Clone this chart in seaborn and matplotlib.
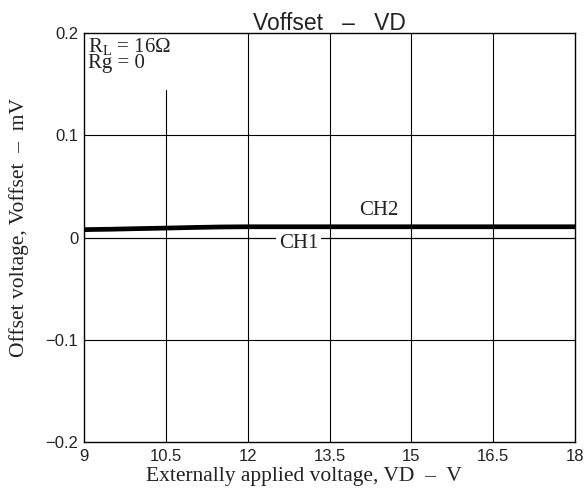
import matplotlib
matplotlib.use('Agg')
import matplotlib.pyplot as plt
import seaborn as sns
import pandas as pd

# data
vd = [9.0, 9.5, 10.0, 10.5, 11.0, 11.5, 12.0, 13.5, 15.0, 16.5, 18.0]
ch2 = [0.0078, 0.0082, 0.0088, 0.0093, 0.0099, 0.0104, 0.0106, 0.0106, 0.0106, 0.0106, 0.0106]
ch1 = [0.0, 0.0, 0.0, 0.0, 0.0, 0.0, 0.0, 0.0, 0.0, 0.0, 0.0]
x_ticks = [9, 10.5, 12, 13.5, 15, 16.5, 18]
x_labels = ['9', '10.5', '12', '13.5', '15', '16.5', '18']
y_ticks = [-0.2, -0.1, 0, 0.1, 0.2]
y_labels = ['\u22120.2', '\u22120.1', '0', '0.1', '0.2']

df = pd.DataFrame({'vd': vd, 'CH1': ch1, 'CH2': ch2})

sns.set_style('white')
plt.rcParams['font.family'] = ['Liberation Sans', 'DejaVu Sans']

fig = plt.figure(figsize=(5.86, 4.95), dpi=100)
ax = fig.add_axes([0.1433, 0.107, 0.838, 0.826])

# grid; the 10.5 line stops under the RL / Rg note
for v in x_ticks[1:-1]:
    ax.axvline(v, ymax=0.86 if v == 10.5 else 1, color='black', lw=0.8, zorder=1)
for v in y_ticks[1:-1]:
    ax.axhline(v, color='black', lw=0.8, zorder=1)

sns.lineplot(data=df, x='vd', y='CH1', color='black', lw=0.8, ax=ax, zorder=2)
sns.lineplot(data=df, x='vd', y='CH2', color='black', lw=3.4, ax=ax, zorder=3)

ax.set_xlim(9, 18)
ax.set_ylim(-0.2, 0.2)
ax.set_xticks(x_ticks)
ax.set_xticklabels(x_labels)
ax.set_yticks(y_ticks)
ax.set_yticklabels(y_labels)
ax.tick_params(axis='x', length=0, pad=5, labelsize=12, labelcolor='#222222')
ax.tick_params(axis='y', length=0, pad=4, labelsize=12, labelcolor='#222222')
for s in ax.spines.values():
    s.set_color('black')
    s.set_linewidth(1.0)

serif = ['Liberation Serif', 'DejaVu Serif']
ax.set_xlabel('Externally applied voltage, VD  \u2013  V', family=serif, fontsize=15.5,
              color='#222222')
ax.xaxis.set_label_coords(0.448, -0.062)
ax.set_ylabel('Offset voltage, Voffset  \u2013  mV', family=serif, fontsize=15.5,
              color='#222222')
ax.yaxis.set_label_coords(-0.112, 0.525)
ax.set_title('Voffset   \u2013   VD', fontsize=16.5, pad=2, color='#222222')

ax.text(9.08, 0.197, '$\\mathregular{R_L}$ = 16\u03a9\nRg = 0', family=serif, fontsize=15,
        va='top', ha='left', linespacing=0.8, color='#222222', zorder=4)
ax.text(14.4, 0.027, 'CH2', family=serif, fontsize=15, ha='center', va='center',
        color='#222222', zorder=4)
ax.text(12.93, -0.006, 'CH1', family=serif, fontsize=15, ha='center', va='center',
        color='#222222', bbox=dict(facecolor='white', edgecolor='none', pad=2), zorder=4)

fig.savefig('out.png', dpi=100)
